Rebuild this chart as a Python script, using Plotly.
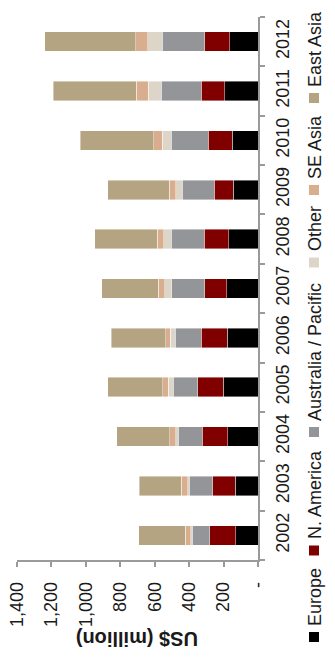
import plotly.graph_objects as go

# ---------------- data ----------------
years = ["2002", "2003", "2004", "2005", "2006", "2007", "2008", "2009", "2010", "2011", "2012"]
series_names = ["Europe", "N. America", "Australia / Pacific", "Other", "SE Asia", "East Asia"]
europe = [128, 132, 176, 203, 180, 182, 170, 145, 151, 194, 165]
n_america = [153, 130, 147, 147, 149, 126, 141, 110, 137, 137, 145]
aus_pacific = [101, 136, 141, 143, 153, 192, 194, 186, 217, 232, 246]
other = [8, 10, 15, 29, 27, 43, 43, 37, 50, 74, 85]
se_asia = [33, 37, 33, 31, 27, 37, 37, 39, 50, 70, 70]
east_asia = [271, 244, 308, 321, 316, 329, 364, 356, 428, 482, 529]
value_ticks = [0, 200, 400, 600, 800, 1000, 1200, 1400]
value_tick_labels = ["-", "200", "400", "600", "800", "1,000", "1,200", "1,400"]
axis_title = "US$ (million)"

# ---------------- styling ----------------
colors = ["#000000", "#800000", "#939598", "#DDD6C8", "#D8AE8E", "#B5A482"]
FONT = "Liberation Sans, Arial, sans-serif"
W, H = 335, 664
L, R, T, B = 17, 77, 17, 104
plot_w = W - L - R
plot_h = H - T - B


def px_x(x):
    return (x - L) / plot_w


def px_y(y):
    return (H - B - y) / plot_h


fig = go.Figure()
for name, vals, col in zip(series_names,
                           [europe, n_america, aus_pacific, other, se_asia, east_asia],
                           colors):
    fig.add_trace(go.Bar(
        y=years, x=vals, name=name, orientation="h",
        marker=dict(color=col, line=dict(color="rgba(255,255,255,0.7)", width=0.6)),
        showlegend=False,
    ))

axis_col = "#9a9a9a"
fig.update_layout(
    width=W, height=H,
    margin=dict(l=L, r=R, t=T, b=B, pad=0),
    barmode="stack", bargap=0.605,
    paper_bgcolor="white", plot_bgcolor="white",
    font=dict(family=FONT, size=18, color="#1a1a1a"),
    xaxis=dict(
        range=[1400, 0], tickvals=value_ticks, ticktext=value_tick_labels,
        tickangle=-90, ticks="outside", ticklen=5, tickcolor=axis_col, tickwidth=1.5,
        showline=True, linecolor=axis_col, linewidth=1.5,
        showgrid=False, zeroline=False, automargin=False,
        tickfont=dict(size=18, family=FONT, color="#1a1a1a"),
        ticklabelstandoff=8,
    ),
    yaxis=dict(
        type="category", categoryorder="array", categoryarray=years,
        range=[-0.5, 10.5], side="right",
        tickson="boundaries", ticks="outside", ticklen=5, tickcolor=axis_col, tickwidth=1.5,
        tickangle=-90, showline=True, linecolor=axis_col, linewidth=1.5,
        showgrid=False, zeroline=False, automargin=False,
        tickfont=dict(size=18, family=FONT, color="#1a1a1a"),
        ticklabelstandoff=8,
    ),
)

# axis title (rotated 180 degrees like the reference)
fig.add_annotation(
    text="<b>" + axis_title + "</b>", textangle=180,
    xref="paper", yref="paper", x=0.5, y=px_y(639),
    xanchor="center", yanchor="middle", showarrow=False,
    font=dict(family=FONT, size=20, color="#1a1a1a"),
)

# legend drawn vertically (text rotated -90)
legend_marker_centers = [637, 550.5, 432, 262.5, 190, 98]
msz = 10
lx = 314
for name, col, cy in zip(series_names, colors, legend_marker_centers):
    fig.add_shape(
        type="rect", xref="paper", yref="paper",
        x0=px_x(lx - msz / 2), x1=px_x(lx + msz / 2),
        y0=px_y(cy + msz / 2), y1=px_y(cy - msz / 2),
        fillcolor=col, line=dict(width=0),
    )
    fig.add_annotation(
        text=name, textangle=-90,
        xref="paper", yref="paper", x=px_x(lx + 1), y=px_y(cy - msz / 2 - 4),
        xanchor="center", yanchor="bottom", showarrow=False,
        font=dict(family=FONT, size=18, color="#1a1a1a"),
    )

fig.write_html("out.html")
